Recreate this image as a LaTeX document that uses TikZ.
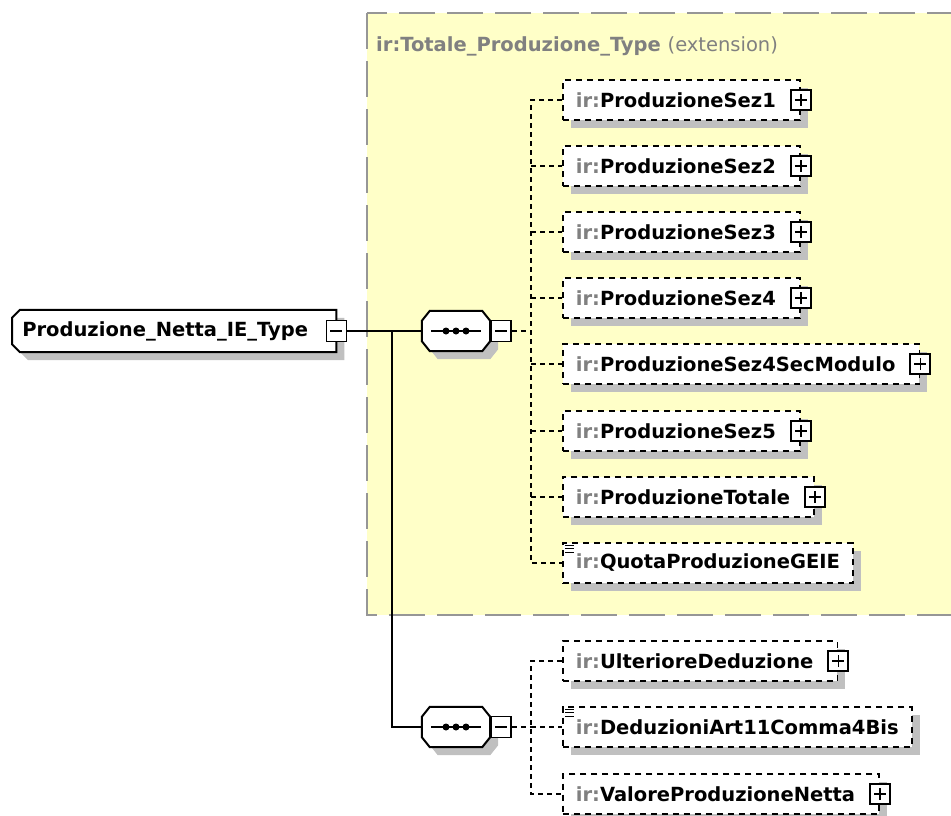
\documentclass[tikz,border=0pt]{standalone}
\usepackage{fontspec}
\setmainfont{DejaVu Sans}
\usepackage{xcolor}
\definecolor{xsdyellow}{RGB}{255,255,200}
\definecolor{xsdgray}{RGB}{150,150,150}
\definecolor{xsdshadow}{RGB}{192,192,192}
\definecolor{xsdprefix}{RGB}{128,128,128}
\usetikzlibrary{positioning,shadows}
\pgfdeclarelayer{bg}
\pgfdeclarelayer{mid}
\pgfsetlayers{bg,mid,main}
\newcommand{\irpfx}{{\color{xsdprefix}ir:}}

\begin{document}
\begin{tikzpicture}[x=1pt,y=-1pt,
  font=\fontsize{19.5}{23}\selectfont\bfseries,
  box/.style={draw,line width=2pt,fill=white,drop shadow={shadow xshift=8pt,shadow yshift=-8pt,fill=xsdshadow,opacity=1}},
  elem/.style={box,dash pattern=on 6pt off 5pt,line width=1.8pt,minimum height=40pt,inner xsep=13pt,inner ysep=0pt,anchor=west},
  minusbox/.style={draw,fill=white,line width=1.8pt,minimum width=20pt,minimum height=21pt,inner sep=0pt,
    path picture={\draw[line width=1.5pt] ([xshift=-6pt]path picture bounding box.center) -- ([xshift=6pt]path picture bounding box.center);}},
  plusbox/.style={draw,fill=white,line width=1.8pt,minimum width=20pt,minimum height=20pt,inner sep=0pt,
    path picture={\draw[line width=1.5pt] ([xshift=-6pt]path picture bounding box.center) -- ([xshift=6pt]path picture bounding box.center)
      ([yshift=-6pt]path picture bounding box.center) -- ([yshift=6pt]path picture bounding box.center);}},
  seq/.style={minimum width=68pt,minimum height=40pt,inner sep=0pt,
    path picture={\draw[line width=2pt] ([xshift=-25pt]path picture bounding box.center) -- ([xshift=25pt]path picture bounding box.center);
      \fill[black] ([xshift=-10pt]path picture bounding box.center) circle[radius=3.5pt];
      \fill[black] (path picture bounding box.center) circle[radius=3.5pt];
      \fill[black] ([xshift=10pt]path picture bounding box.center) circle[radius=3.5pt];}},
  conn/.style={line width=1.8pt,dash pattern=on 5pt off 4pt},
  wire/.style={line width=2pt}]
  \useasboundingbox (0,0) rectangle (951,815);
  \clip (0,0) rectangle (951,815);
  \begin{pgfonlayer}{bg}
    \fill[white] (0,0) rectangle (951,815);
    \draw[line width=2pt,xsdgray,fill=xsdyellow,dash pattern=on 36pt off 12pt] (367,13) rectangle (975,615);
  \end{pgfonlayer}
  \node[anchor=west,text=xsdprefix,inner sep=0pt] (ext) at (376,46) {ir:Totale\_Produzione\_Type \mdseries(extension)};

  \node[minimum height=42pt,minimum width=324pt,inner xsep=8pt,anchor=west] (main) at (12,331) {Produzione\_Netta\_IE\_Type\hspace*{18pt}};
  \begin{pgfonlayer}{mid}
    \path[box] ([yshift=-8pt]main.north west) -- ([xshift=8pt]main.north west) -- (main.north east)
      -- (main.south east) -- ([xshift=8pt]main.south west) -- ([yshift=8pt]main.south west) -- cycle;
  \end{pgfonlayer}
  \node[minusbox] (mainm) at (main.east) {};
  \coordinate (trunk) at (392,331);

  \node[seq] (seqa) at (456,331) {};
  \begin{pgfonlayer}{mid}
    \path[box] ([yshift=-10pt]seqa.north west) -- ([xshift=8pt]seqa.north west) -- ([xshift=-8pt]seqa.north east)
      -- ([yshift=-10pt]seqa.north east) -- ([yshift=10pt]seqa.south east) -- ([xshift=-8pt]seqa.south east)
      -- ([xshift=8pt]seqa.south west) -- ([yshift=10pt]seqa.south west) -- cycle;
  \end{pgfonlayer}
  \node[minusbox,anchor=west] (seqam) at (seqa.east) {};
  \coordinate (busa) at (531,331);

  \node[elem] (sez1) at (562,100) {\irpfx ProduzioneSez1\hspace*{11pt}};
  \node[plusbox] (sez1p) at (sez1.east) {};
  \node[elem] (sez2) at (562,166) {\irpfx ProduzioneSez2\hspace*{11pt}};
  \node[plusbox] (sez2p) at (sez2.east) {};
  \node[elem] (sez3) at (562,232) {\irpfx ProduzioneSez3\hspace*{11pt}};
  \node[plusbox] (sez3p) at (sez3.east) {};
  \node[elem] (sez4) at (562,298) {\irpfx ProduzioneSez4\hspace*{11pt}};
  \node[plusbox] (sez4p) at (sez4.east) {};
  \node[elem] (secmod) at (562,364) {\irpfx ProduzioneSez4SecModulo\hspace*{11pt}};
  \node[plusbox] (secmodp) at (secmod.east) {};
  \node[elem] (sez5) at (562,431) {\irpfx ProduzioneSez5\hspace*{11pt}};
  \node[plusbox] (sez5p) at (sez5.east) {};
  \node[elem] (totale) at (562,497) {\irpfx ProduzioneTotale\hspace*{11pt}};
  \node[plusbox] (totalep) at (totale.east) {};
  \node[elem] (quota) at (562,563) {\irpfx QuotaProduzioneGEIE};
  \draw[line width=1.2pt] ([shift={(3,3)}]quota.north west) -- ++(9,0)
    ([shift={(3,6.5)}]quota.north west) -- ++(9,0) ([shift={(3,10)}]quota.north west) -- ++(9,0);

  \node[seq] (seqb) at (456,727) {};
  \begin{pgfonlayer}{mid}
    \path[box] ([yshift=-10pt]seqb.north west) -- ([xshift=8pt]seqb.north west) -- ([xshift=-8pt]seqb.north east)
      -- ([yshift=-10pt]seqb.north east) -- ([yshift=10pt]seqb.south east) -- ([xshift=-8pt]seqb.south east)
      -- ([xshift=8pt]seqb.south west) -- ([yshift=10pt]seqb.south west) -- cycle;
  \end{pgfonlayer}
  \node[minusbox,anchor=west] (seqbm) at (seqb.east) {};
  \coordinate (busb) at (531,727);

  \node[elem] (ult) at (562,661) {\irpfx UlterioreDeduzione\hspace*{11pt}};
  \node[plusbox] (ultp) at (ult.east) {};
  \node[elem] (ded) at (562,727) {\irpfx DeduzioniArt11Comma4Bis};
  \draw[line width=1.2pt] ([shift={(3,3)}]ded.north west) -- ++(9,0)
    ([shift={(3,6.5)}]ded.north west) -- ++(9,0) ([shift={(3,10)}]ded.north west) -- ++(9,0);
  \node[elem] (val) at (562,794) {\irpfx ValoreProduzioneNetta\hspace*{11pt}};
  \node[plusbox] (valp) at (val.east) {};

  \draw[wire] (mainm.east) -- (seqa.west);
  \draw[wire] (trunk) |- (seqb.west);
  \draw[conn] (seqam.east) -- (busa);
  \draw[conn] (sez1.west) -| (busa |- quota.west) -- (quota.west);
  \draw[conn] (busa |- sez2.west) -- (sez2.west);
  \draw[conn] (busa |- sez3.west) -- (sez3.west);
  \draw[conn] (busa |- sez4.west) -- (sez4.west);
  \draw[conn] (busa |- secmod.west) -- (secmod.west);
  \draw[conn] (busa |- sez5.west) -- (sez5.west);
  \draw[conn] (busa |- totale.west) -- (totale.west);
  \draw[conn] (seqbm.east) -- (busb);
  \draw[conn] (ult.west) -| (busb |- val.west) -- (val.west);
  \draw[conn] (busb) -- (ded.west);
\end{tikzpicture}
\end{document}
